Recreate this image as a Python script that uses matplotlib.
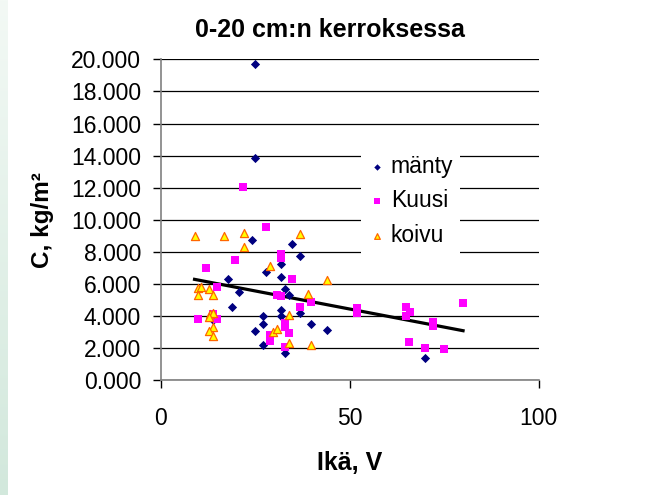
import matplotlib
matplotlib.use("Agg")
import matplotlib.pyplot as plt
import numpy as np

plt.rcParams['font.family'] = ['Liberation Sans', 'DejaVu Sans']

# mänty (diamonds)
manty_x = [24.9, 24.9, 24.1, 34.9, 37.0, 31.9, 27.8, 31.9, 17.8, 20.7, 32.8, 34.0, 19.0,
           37.0, 31.9, 31.9, 27.0, 27.0, 14.0, 39.9, 44.0, 24.9, 27.0, 32.8, 69.9]
manty_y = [19.72, 13.83, 8.74, 8.47, 7.73, 7.23, 6.73, 6.42, 6.29, 5.48, 5.69, 5.31, 4.55,
           4.21, 4.36, 4.00, 3.99, 3.51, 3.74, 3.51, 3.15, 3.09, 2.22, 1.68, 1.41]

# Kuusi (squares)
kuusi_x = [21.9, 27.8, 11.9, 19.8, 31.9, 31.9, 34.9, 14.9, 30.8, 31.9, 39.9, 37.0, 51.9, 51.9,
           9.9, 14.9, 14.0, 32.8, 32.8, 34.0, 28.9, 28.9, 32.8, 64.9, 65.9, 64.9, 72.0, 72.0,
           79.9, 65.8, 69.9, 74.9]
kuusi_y = [12.06, 9.55, 7.02, 7.52, 7.85, 7.64, 6.29, 5.83, 5.33, 5.27, 4.90, 4.55, 4.52, 4.21,
           3.84, 3.82, 4.11, 3.59, 3.34, 2.95, 2.82, 2.43, 2.09, 4.55, 4.26, 4.03, 3.63, 3.38,
           4.82, 2.37, 2.01, 1.93]

# koivu (triangles)
koivu_x = [9.0, 16.9, 22.0, 37.0, 22.0, 29.0, 44.0, 9.9, 10.7, 12.8, 9.9, 14.0, 39.0, 13.1,
           14.0, 12.8, 34.0, 14.0, 12.8, 14.0, 29.8, 30.8, 34.0, 39.9]
koivu_y = [9.01, 9.01, 9.18, 9.10, 8.30, 7.12, 6.25, 5.77, 5.79, 5.71, 5.31, 5.31, 5.36, 4.11,
           4.17, 3.92, 4.05, 3.30, 3.09, 2.78, 3.01, 3.18, 2.34, 2.20]

# trendiviiva
trend_x = [9.0, 80.0]
trend_y = [6.29, 3.09]

y_ticks = [0, 2, 4, 6, 8, 10, 12, 14, 16, 18, 20]
x_ticks = [0, 50, 100]

fig = plt.figure(figsize=(6.51, 4.95), dpi=100)

# vihreä liukuväri vasemmassa reunassa
strip = fig.add_axes([0, 0, 8 / 651, 1])
grad = np.linspace(0, 1, 256).reshape(-1, 1)
strip.imshow(grad, aspect='auto', cmap=matplotlib.colors.LinearSegmentedColormap.from_list(
    'g', ['#f3f9f5', '#d2e8dc']))
strip.axis('off')

ax = fig.add_axes([160.5 / 651, 1 - 380.3 / 495, 378.2 / 651, 321 / 495])

ax.plot(trend_x, trend_y, color='black', lw=2.3, zorder=2)
ax.scatter(manty_x, manty_y, marker='D', s=22, color='#000080', lw=0, zorder=3, label='mänty')
ax.scatter(kuusi_x, kuusi_y, marker='s', s=30, color='#ff00ff', lw=0, zorder=4, label='Kuusi')
ax.scatter(koivu_x, koivu_y, marker='^', s=34, facecolor='#ffff00', edgecolor='#ff6600',
           lw=0.9, zorder=5, label='koivu')

ax.set_xlim(0, 100)
ax.set_ylim(0, 20)
ax.set_xticks(x_ticks)
ax.set_yticks(y_ticks)
ax.set_yticklabels(['%.3f' % v for v in y_ticks])
ax.yaxis.grid(True, color='black', lw=0.9)
ax.set_axisbelow(True)

for s in ['top', 'right']:
    ax.spines[s].set_visible(False)
for s in ['left', 'bottom']:
    ax.spines[s].set_color('#808080')
    ax.spines[s].set_linewidth(1.2)

ax.tick_params(axis='both', labelsize=16.5, colors='black', width=1, length=6)
ax.tick_params(axis='y', pad=8)
ax.tick_params(axis='x', pad=13)

ax.set_xlabel('Ikä, V', fontsize=18, fontweight='bold')
ax.xaxis.set_label_coords(0.5, -0.258)
ax.xaxis.label.set_va('center')
ax.set_ylabel('C, kg/m²', fontsize=17.5, fontweight='bold')
ax.yaxis.set_label_coords(-0.311, 0.5)
ax.yaxis.label.set_va('center')

fig.text(330 / 651, 1 - 30 / 495, '0-20 cm:n kerroksessa', fontsize=18, fontweight='bold',
         ha='center', va='center')

leg = ax.legend(loc='upper left', bbox_to_anchor=(361 / 651, 1 - 148 / 495),
                bbox_transform=fig.transFigure, fontsize=16.5, frameon=True, fancybox=False,
                borderaxespad=0, borderpad=0.3, handlelength=0.8, handletextpad=0.2,
                labelspacing=0.5, markerscale=0.7)
leg.get_frame().set_facecolor('white')
leg.get_frame().set_edgecolor('none')
leg.get_frame().set_alpha(1)

fig.savefig('out.png', dpi=100)
